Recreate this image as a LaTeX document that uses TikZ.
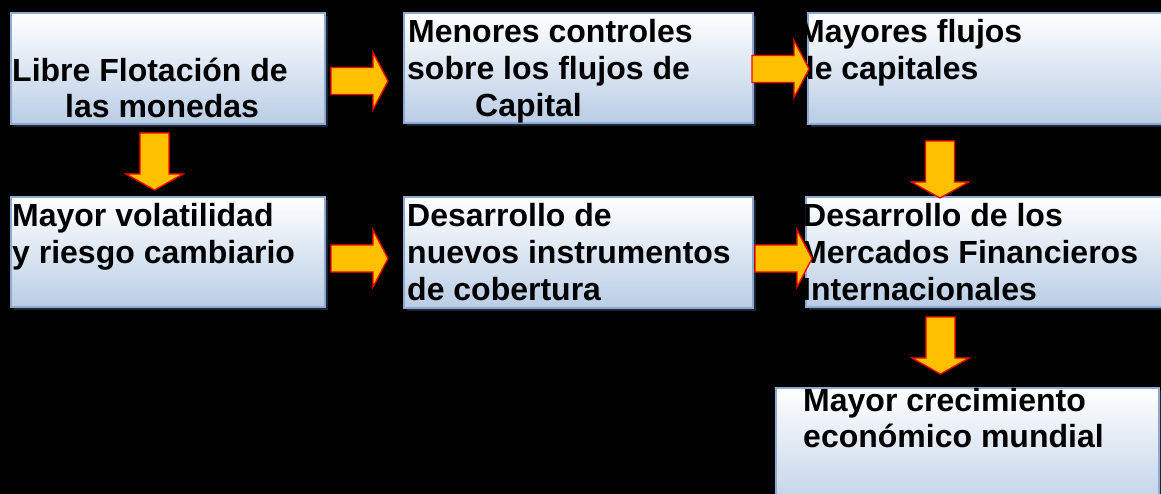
\documentclass[tikz,border=0pt]{standalone}
\usepackage{fontspec}
\setmainfont{Liberation Sans}
\usetikzlibrary{shadows}
\definecolor{boxbot}{HTML}{B9CDE5}
\definecolor{boxline}{HTML}{8FAAD0}
\definecolor{shadowc}{HTML}{1C2636}
\definecolor{arrfill}{HTML}{FFC000}
\begin{document}
\begin{tikzpicture}[x=1pt,y=-1pt,
  box/.style={draw=boxline, line width=1.5pt, top color=white, bottom color=boxbot,
    inner sep=0pt, outer sep=0pt, anchor=north west,
    drop shadow={shadow xshift=3pt, shadow yshift=-3pt, fill=shadowc, opacity=1}},
  txt/.style={font=\fontsize{32}{36}\selectfont\bfseries, text=black, inner sep=0pt, anchor=base west},
  arr/.style={fill=arrfill, draw=red, line width=1.3pt, line join=miter},
  rarr/.pic={\path[arr] (0,-13.5) -- (42,-13.5) -- (42,-28.5) -- (57,0) -- (42,28.5) -- (42,13.5) -- (0,13.5) -- cycle;},
  darr/.pic={\path[arr] (-14.5,0) -- (14.5,0) -- (14.5,41) -- (28.5,41) -- (0,57) -- (-28.5,41) -- (-14.5,41) -- cycle;}
]
\useasboundingbox (0,0) rectangle (1161,494);
\clip (0,0) rectangle (1161,494);
\fill[black] (0,0) rectangle (1161,494);

% boxes
\node[box, minimum width=314pt, minimum height=111pt] (b1) at (11,13) {};
\node[box, minimum width=349pt, minimum height=110pt] (b2) at (404,13) {};
\node[box, minimum width=370pt, minimum height=111pt] (b3) at (808,13) {};
\node[box, minimum width=314pt, minimum height=110pt] (b4) at (11,197) {};
\node[box, minimum width=349pt, minimum height=111pt] (b5) at (404,197) {};
\node[box, minimum width=370pt, minimum height=110pt] (b6) at (806,197) {};
\node[box, minimum width=383pt, minimum height=130pt] (b7) at (776,388) {};

% texts
\node[txt] (t1a) at (12,82) {Libre Flotación de};
\node[txt] (t1b) at (65,118) {las monedas};
\node[txt] (t2a) at (408,43) {Menores controles};
\node[txt] (t2b) at (407,80) {sobre los flujos de};
\node[txt] (t2c) at (475,117) {Capital};
\node[txt] (t3a) at (798,43) {Mayores flujos};
\node[txt] (t3b) at (795,80) {de capitales};
\node[txt] (t4a) at (12,227) {Mayor volatilidad};
\node[txt] (t4b) at (12,263) {y riesgo cambiario};
\node[txt] (t5a) at (407,227) {Desarrollo de};
\node[txt] (t5b) at (407,263) {nuevos instrumentos};
\node[txt] (t5c) at (407,300) {de cobertura};
\node[txt] (t6a) at (803,227) {Desarrollo de los};
\node[txt] (t6b) at (800,263) {Mercados Financieros};
\node[txt] (t6c) at (802,300) {Internacionales};
\node[txt] (t7a) at (803,411) {Mayor crecimiento};
\node[txt] (t7b) at (803,447) {económico mundial};

% block arrows
\pic at (331,81) {rarr};
\pic at (752,69) {rarr};
\pic at (331,258.5) {rarr};
\pic at (755,258.5) {rarr};
\pic at (154.5,133) {darr};
\pic at (940,141) {darr};
\pic at (940.5,317) {darr};
\end{tikzpicture}
\end{document}
